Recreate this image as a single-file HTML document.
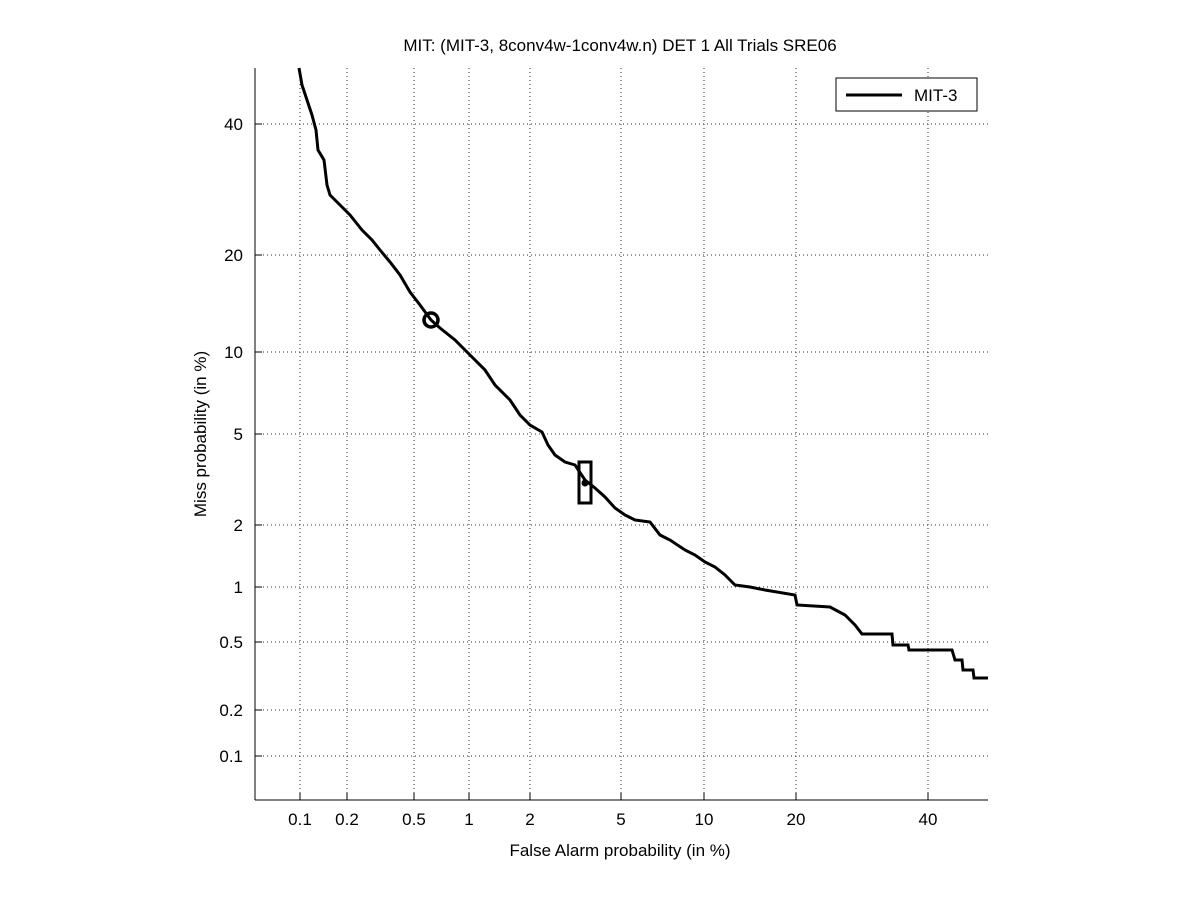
<!DOCTYPE html>
<html><head><meta charset="utf-8"><style>body{margin:0;background:#fff}svg{display:block}text{font-family:"Liberation Sans",sans-serif;font-size:17px;fill:#000}</style></head><body>
<svg width="1201" height="900" viewBox="0 0 1201 900">
<rect width="1201" height="900" fill="#fff"/>
<g stroke="#000" stroke-width="1" stroke-dasharray="1,3" opacity="0.8">
<line x1="300" y1="68" x2="300" y2="800"/><line x1="347" y1="68" x2="347" y2="800"/><line x1="414" y1="68" x2="414" y2="800"/><line x1="469" y1="68" x2="469" y2="800"/><line x1="530" y1="68" x2="530" y2="800"/><line x1="621" y1="68" x2="621" y2="800"/><line x1="704" y1="68" x2="704" y2="800"/><line x1="796" y1="68" x2="796" y2="800"/><line x1="928" y1="68" x2="928" y2="800"/>
<line x1="255" y1="124" x2="988" y2="124"/><line x1="255" y1="255" x2="988" y2="255"/><line x1="255" y1="352" x2="988" y2="352"/><line x1="255" y1="434" x2="988" y2="434"/><line x1="255" y1="525" x2="988" y2="525"/><line x1="255" y1="587" x2="988" y2="587"/><line x1="255" y1="642" x2="988" y2="642"/><line x1="255" y1="710" x2="988" y2="710"/><line x1="255" y1="756" x2="988" y2="756"/>
</g>
<g stroke="#000" stroke-width="1">
<line x1="255" y1="68" x2="255" y2="800"/><line x1="255" y1="800" x2="988" y2="800"/>
<path d="M300 800v-7M347 800v-7M414 800v-7M469 800v-7M530 800v-7M621 800v-7M704 800v-7M796 800v-7M928 800v-7M255 124h7M255 255h7M255 352h7M255 434h7M255 525h7M255 587h7M255 642h7M255 710h7M255 756h7"/>
</g>
<g text-anchor="middle">
<text x="300" y="825">0.1</text><text x="347" y="825">0.2</text><text x="414" y="825">0.5</text><text x="469" y="825">1</text><text x="530" y="825">2</text><text x="621" y="825">5</text><text x="704" y="825">10</text><text x="796" y="825">20</text><text x="928" y="825">40</text>
<text x="620" y="51">MIT: (MIT-3, 8conv4w-1conv4w.n) DET 1 All Trials SRE06</text>
<text x="620" y="856">False Alarm probability (in %)</text>
<text transform="translate(206,434) rotate(-90)">Miss probability (in %)</text>
</g>
<g text-anchor="end">
<text x="243" y="130">40</text><text x="243" y="261">20</text><text x="243" y="358">10</text><text x="243" y="440">5</text><text x="243" y="531">2</text><text x="243" y="593">1</text><text x="243" y="648">0.5</text><text x="243" y="716">0.2</text><text x="243" y="762">0.1</text>
</g>
<path fill="none" stroke="#000" stroke-width="3" stroke-linejoin="miter" d="M299 68L302 85L307 100L312 115L316 130L318 150L324 160L327 185L330 195L340 205L350 215L362 230L372 240L380 250L390 262L400 275L410 292L420 305L431 320L440 328L455 340L470 355L485 370L495 385L510 400L520 415L530 425L542 432L548 445L555 455L565 462L575 465L585 480L595 488L605 497L615 508L625 515L635 520L650 522L660 535L670 540L685 550L695 555L705 562L715 567L725 575L735 585L750 587L765 590L795 595L797 605L830 607L845 615L855 625L862 634L892 634L893 645L908 645L909 650L952 650L955 660L962 660L963 670L973 670L974 678L988 678"/>
<circle cx="431" cy="320" r="7" fill="none" stroke="#000" stroke-width="3.5"/>
<rect x="579" y="462" width="12" height="41" fill="none" stroke="#000" stroke-width="3"/>
<circle cx="585" cy="483" r="3.5" fill="#000"/>
<rect x="836" y="78" width="141" height="33" fill="#fff" stroke="#000" stroke-width="1"/>
<line x1="846" y1="95" x2="902" y2="95" stroke="#000" stroke-width="3"/>
<text x="914" y="101">MIT-3</text>
</svg>
</body></html>
